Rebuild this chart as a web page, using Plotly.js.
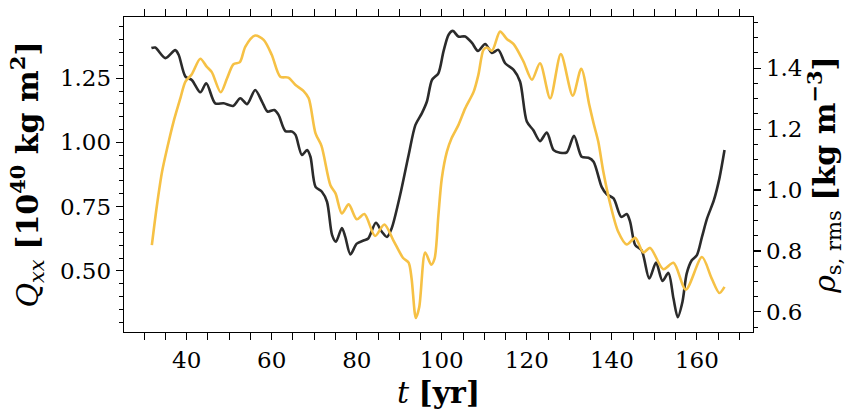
<!DOCTYPE html>
<html>
<head>
<meta charset="utf-8">
<script src="https://cdn.plot.ly/plotly-3.0.1.min.js"></script>
<style>
    html, body { margin: 0; padding: 0; background: #ffffff; }
    #grafica { width: 865px; height: 420px; }
</style>
</head>
<body>
<div id="grafica"></div>
<script>
/**********************************************************************************************************************************************************/
// DATOS
const tiempoQ = [31.7, 32.6, 35.0, 37.3, 38.1, 39.7, 41.2, 43.2, 44.6, 46.7, 48.7, 50.9, 52.6, 54.2, 56.1, 57.7, 59.0, 60.6,
    61.6, 63.2, 64.8, 65.6, 67.1, 68.3, 69.1, 70.3, 71.8, 73.0, 74.2, 75.1, 76.5, 77.3, 78.5, 80.0, 81.6, 82.7, 84.5, 85.9,
    87.1, 88.2, 90.2, 92.2, 93.8, 95.3, 96.5, 97.7, 99.2, 100.4, 101.6, 102.6, 103.9, 105.5, 107.1, 108.5, 110.2, 111.8,
    113.3, 114.9, 116.9, 118.4, 120.0, 121.5, 123.1, 124.7, 126.3, 127.8, 129.4, 131.1, 132.9, 134.5, 135.7, 137.6, 138.8,
    140.4, 142.2, 143.5, 144.3, 145.5, 147.0, 148.8, 150.4, 151.9, 153.3, 154.5, 155.5, 156.6, 157.6, 158.8, 160.0, 161.2,
    162.4, 164.0, 165.3, 166.5];
const valoresQ = [1.367, 1.369, 1.328, 1.359, 1.341, 1.256, 1.243, 1.195, 1.230, 1.152, 1.152, 1.142, 1.172, 1.149, 1.204, 1.159, 1.120, 1.126,
    1.107, 1.044, 1.042, 1.029, 0.951, 0.970, 0.944, 0.827, 0.808, 0.769, 0.639, 0.613, 0.667, 0.632, 0.564, 0.606, 0.618, 0.626, 0.687, 0.652,
    0.632, 0.665, 0.795, 0.951, 1.068, 1.113, 1.159, 1.243, 1.269, 1.354, 1.419, 1.434, 1.412, 1.412, 1.387, 1.356, 1.383, 1.348,
    1.360, 1.308, 1.282, 1.237, 1.081, 1.048, 1.005, 1.038, 0.970, 0.960, 0.961, 1.026, 0.944, 0.940, 0.925, 0.827, 0.798,
    0.782, 0.710, 0.721, 0.691, 0.600, 0.580, 0.470, 0.532, 0.461, 0.492, 0.392, 0.320, 0.379, 0.489, 0.541, 0.561, 0.632,
    0.704, 0.775, 0.860, 0.970];

const tiempoRho = [31.8, 33.0, 34.2, 35.4, 36.9, 38.5, 39.7, 41.2, 43.2, 44.7, 45.9, 48.0, 49.5, 51.0, 52.5, 53.8, 56.1, 58.1, 60.0, 62.0,
    63.9, 65.6, 67.5, 68.7, 70.3, 71.7, 73.8, 75.0, 76.5, 78.1, 80.0, 81.8, 84.3, 86.5, 88.6, 90.9, 92.2, 92.9, 93.9, 94.7, 96.1,
    97.5, 98.3, 99.2, 100.0, 101.2, 102.3, 103.9, 105.5, 107.5, 108.6, 109.8, 110.6, 111.8, 113.7, 115.3, 116.9, 119.2, 121.2,
    123.1, 125.5, 128.0, 130.8, 132.8, 134.7, 135.7, 136.8, 138.0, 139.5, 141.5, 143.5, 145.5, 147.4, 149.0, 152.1, 154.5,
    157.4, 161.2, 163.5, 165.3, 166.5];
const valoresRho = [0.819, 0.950, 1.060, 1.137, 1.224, 1.301, 1.356, 1.380, 1.431, 1.405, 1.387, 1.321, 1.367, 1.413, 1.420, 1.471, 1.507, 1.493, 1.444, 1.372,
    1.369, 1.345, 1.325, 1.301, 1.186, 1.145, 1.016, 0.989, 0.923, 0.953, 0.904, 0.921, 0.849, 0.887, 0.835, 0.777, 0.762, 0.709, 0.580, 0.616, 0.795,
    0.755, 0.775, 0.917, 1.038, 1.126, 1.170, 1.213, 1.268, 1.323, 1.378, 1.460, 1.468, 1.457, 1.520, 1.496, 1.479, 1.422, 1.362,
    1.416, 1.301, 1.446, 1.310, 1.398, 1.279, 1.219, 1.159, 1.060, 0.961, 0.863, 0.821, 0.843, 0.795, 0.810, 0.740, 0.761,
    0.673, 0.780, 0.709, 0.662, 0.682];

const ticksQ = [0.50, 0.75, 1.00, 1.25];
const ticksRho = [0.6, 0.8, 1.0, 1.2, 1.4];
const ticksT = [40, 60, 80, 100, 120, 140, 160];

/**********************************************************************************************************************************************************/
// ESTILO COMUN DE LOS EJES
const fuenteTicks = { family: "'DejaVu Serif', serif", size: 23, color: '#000000' };
const fuenteTitulo = { family: "'DejaVu Serif', serif", size: 30, color: '#000000' };

function ejeBase(extra) {
    return Object.assign({
        showgrid: false,
        zeroline: false,
        showline: true,
        linecolor: '#000000',
        linewidth: 1.3,
        ticks: 'outside',
        ticklen: 7,
        tickwidth: 1.2,
        tickcolor: '#000000',
        tickfont: fuenteTicks
    }, extra);
}

// marcas menores, cada eje con su paso
function menores(paso) {
    return { ticks: 'outside', ticklen: 4, tickwidth: 1, tickcolor: '#000000', dtick: paso, tick0: 0 };
}

/**********************************************************************************************************************************************************/
// TRAZAS
const trazaQ = {
    x: tiempoQ,
    y: valoresQ,
    type: 'scatter',
    mode: 'lines',
    line: { color: '#2b2b2b', width: 2.6, shape: 'spline', smoothing: 0.8 },
    yaxis: 'y',
    hoverinfo: 'skip'
};

const trazaRho = {
    x: tiempoRho,
    y: valoresRho,
    type: 'scatter',
    mode: 'lines',
    line: { color: '#f6c145', width: 2.6, shape: 'spline', smoothing: 0.8 },
    yaxis: 'y2',
    hoverinfo: 'skip'
};

const layout = {
    width: 865,
    height: 420,
    paper_bgcolor: '#ffffff',
    plot_bgcolor: '#ffffff',
    showlegend: false,
    margin: { l: 124, r: 112, t: 17, b: 88 },

    xaxis: ejeBase({
        range: [25.25, 173.2],
        tickvals: ticksT,
        mirror: 'allticks',
        minor: menores(5),
        title: { text: '<i>t</i> <b>[yr]</b>', font: fuenteTitulo, standoff: 10 }
    }),
    yaxis: ejeBase({
        range: [0.262, 1.488],
        tickvals: ticksQ,
        tickformat: '.2f',
        minor: menores(0.05),
        title: { text: '<i>Q</i><sub><i>xx</i></sub> <b>[10<sup>40</sup> kg m<sup>2</sup>]</b>', font: fuenteTitulo, standoff: 12 }
    }),
    yaxis2: ejeBase({
        range: [0.534, 1.568],
        overlaying: 'y',
        side: 'right',
        tickvals: ticksRho,
        tickformat: '.1f',
        minor: menores(0.05),
        title: { text: '<i>ρ</i><sub>s, rms</sub> <b>[kg m<sup>−3</sup>]</b>', font: fuenteTitulo, standoff: 12 }
    })
};

Plotly.newPlot('grafica', [trazaQ, trazaRho], layout, { displayModeBar: false, staticPlot: true });
</script>
</body>
</html>
